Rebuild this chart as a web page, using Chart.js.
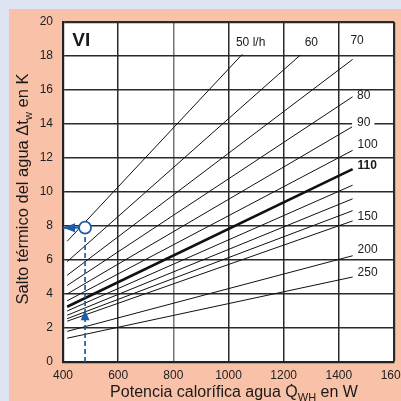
<!DOCTYPE html>
<html><head><meta charset="utf-8">
<script src="https://cdn.jsdelivr.net/npm/chart.js@4.4.1/dist/chart.umd.min.js"></script>
<style>html,body{margin:0;padding:0;width:401px;height:401px;overflow:hidden;background:#dfe4f2}</style>
</head><body>
<canvas id="c" width="420" height="401" style="display:block;width:420px;height:401px"></canvas>
<script>
// ---- data ----
const flows   = [50, 60, 70, 80, 90, 100, 110, 120, 130, 140, 150, 200, 250]; // l/h
const startQ  = [415, 415, 415, 415, 415, 415, 415, 415, 415, 415, 415, 415, 415];
const startDT = [7.1, 5.9, 5.1, 4.5, 4.0, 3.6, 3.25, 3.0, 2.75, 2.55, 2.4, 1.8, 1.4];
const endQ    = [1050, 1260, 1450, 1450, 1450, 1450, 1450, 1450, 1450, 1450, 1450, 1450, 1450];
const endDT   = [18.1, 18.05, 17.8, 15.6, 13.85, 12.45, 11.35, 10.4, 9.6, 8.9, 8.3, 6.25, 5.0];
const lineLabels = ['50 l/h', '60', '70', '80', '90', '100', '110', '', '', '', '150', '200', '250'];
const xTickValues = [400, 600, 800, 1000, 1200, 1400, 1600];
const yTickValues = [0, 2, 4, 6, 8, 10, 12, 14, 16, 18, 20];
const exampleQ = 480, exampleDT = 7.9;
const panelTag = 'VI';
const xTitle = ['Potencia calorífica agua ', 'Q\u0307', 'WH', ' en W'];
const yTitle = ['Salto térmico del agua ', 'Δt', 'w', ' en K'];

// ---- label placement (data coords, left/middle anchored) ----
const labelQ  = [1027, 1276, 1442, 1466, 1466, 1468, 1468, null, null, null, 1468, 1468, 1468];
const labelDT = [18.8, 18.8, 18.88, 15.66, 14.06, 12.78, 11.56, null, null, null, 8.53, 6.6, 5.24];

const BLUE = '#1f5ca8';
const FONT = "'Liberation Sans', Arial, Helvetica, sans-serif";

const datasets = [];
datasets.push({
  data: [{x: exampleQ, y: exampleDT}], showLine: false, order: 0,
  pointRadius: 6, pointBackgroundColor: '#fff', pointBorderColor: BLUE, pointBorderWidth: 1.8
});
datasets.push({
  data: [{x: exampleQ, y: 0}, {x: exampleQ, y: exampleDT}], showLine: true, order: 1,
  borderColor: BLUE, borderWidth: 1.7, borderDash: [5, 3], pointRadius: 0
});
datasets.push({
  data: [{x: 400, y: exampleDT}, {x: exampleQ, y: exampleDT}], showLine: true, order: 1,
  borderColor: BLUE, borderWidth: 2, pointRadius: 0
});
flows.forEach((f, i) => {
  datasets.push({
    label: String(f),
    data: [{x: startQ[i], y: startDT[i]}, {x: endQ[i], y: endDT[i]}],
    showLine: true, order: 2,
    borderColor: '#111', borderWidth: f === 110 ? 2.6 : 1, pointRadius: 0
  });
});

const bgPlugin = {
  id: 'bg',
  beforeDraw(chart) {
    const c = chart.ctx, a = chart.chartArea;
    c.save();
    c.fillStyle = '#dfe4f2'; c.fillRect(0, 0, chart.width, chart.height);
    c.fillStyle = '#f9c1a7'; c.fillRect(9, 9, chart.width - 9, chart.height - 9);
    c.fillStyle = '#ffffff'; c.fillRect(a.left, a.top, a.right - a.left, a.bottom - a.top);
    c.restore();
  }
};

function drawSubText(c, parts, big, small, cx, cy) {
  c.font = big + 'px ' + FONT;
  const w0 = c.measureText(parts[0]).width, w1 = c.measureText(parts[1]).width, w3 = c.measureText(parts[3]).width;
  c.font = small + 'px ' + FONT;
  const w2 = c.measureText(parts[2]).width;
  const total = w0 + w1 + w2 + w3;
  let x = cx - total / 2;
  c.textAlign = 'left'; c.textBaseline = 'alphabetic';
  c.font = big + 'px ' + FONT;
  c.fillText(parts[0], x, cy); x += w0;
  c.fillText(parts[1], x, cy); x += w1;
  c.font = small + 'px ' + FONT;
  c.fillText(parts[2], x, cy + 4); x += w2;
  c.font = big + 'px ' + FONT;
  c.fillText(parts[3], x, cy);
}

const overlayPlugin = {
  id: 'overlay',
  afterDatasetsDraw(chart) {
    const c = chart.ctx, xs = chart.scales.x, ys = chart.scales.y;
    c.save();
    c.textAlign = 'left'; c.textBaseline = 'middle';
    lineLabels.forEach((t, i) => {
      if (!t) return;
      const px = xs.getPixelForValue(labelQ[i]), py = ys.getPixelForValue(labelDT[i]);
      c.font = (flows[i] === 110 ? 'bold ' : '') + '12px ' + FONT;
      if (flows[i] === 90) {
        const w = c.measureText(t).width;
        c.fillStyle = '#fff'; c.fillRect(px - 5, py - 6, w + 9, 12);
      }
      c.fillStyle = '#1a1a1a';
      c.fillText(t, px, py);
    });
    c.font = 'bold 19px ' + FONT; c.fillStyle = '#1a1a1a'; c.textAlign = 'center';
    c.fillText(panelTag, xs.getPixelForValue(466), ys.getPixelForValue(18.9));
    c.fillStyle = BLUE;
    const ax = xs.getPixelForValue(exampleQ), ay = ys.getPixelForValue(3.05);
    c.beginPath(); c.moveTo(ax, ay); c.lineTo(ax - 4.5, ay + 10); c.lineTo(ax + 4.5, ay + 10); c.closePath(); c.fill();
    const lx = xs.getPixelForValue(400), ly = ys.getPixelForValue(exampleDT);
    c.beginPath(); c.moveTo(lx, ly); c.lineTo(lx + 12, ly - 4.5); c.lineTo(lx + 12, ly + 4.5); c.closePath(); c.fill();
    c.restore();
  },
  afterDraw(chart) {
    const c = chart.ctx;
    c.save();
    c.fillStyle = '#1a1a1a';
    drawSubText(c, xTitle, 16, 11, 234, 397);
    c.translate(22, 189); c.rotate(-Math.PI / 2);
    drawSubText(c, yTitle, 16.5, 11, 0, 6);
    c.restore();
  }
};

new Chart(document.getElementById('c'), {
  type: 'scatter',
  data: { datasets },
  options: {
    responsive: false, animation: false, devicePixelRatio: 1,
    layout: { padding: { left: 0, top: 22, right: 26, bottom: 0 } },
    plugins: { legend: { display: false }, tooltip: { enabled: false } },
    scales: {
      x: {
        type: 'linear', min: 400, max: 1600,
        afterBuildTicks: s => { s.ticks = xTickValues.map(v => ({value: v})); },
        afterFit: s => { s.height = 39; },
        ticks: { padding: 6, color: '#222', font: { family: FONT, size: 12 }, callback: v => String(v) },
        grid: { drawTicks: false,
          color: ctx => (ctx.tick && ctx.tick.value === 800) ? '#777' : '#2a2a2a',
          lineWidth: ctx => (ctx.tick && ctx.tick.value === 1600) ? 2.2 : 1.5 },
        border: { display: true, color: '#222', width: 2.2 }
      },
      y: {
        type: 'linear', min: 0, max: 20,
        afterBuildTicks: s => { s.ticks = yTickValues.map(v => ({value: v})); },
        afterFit: s => { s.width = 63; },
        ticks: { padding: 10, color: '#222', font: { family: FONT, size: 12 }, callback: v => String(v) },
        grid: { drawTicks: false, color: '#2a2a2a',
          lineWidth: ctx => (ctx.tick && ctx.tick.value === 20) ? 2.2 : 1.5 },
        border: { display: true, color: '#222', width: 2.2 }
      }
    }
  },
  plugins: [bgPlugin, overlayPlugin]
});
</script>
</body></html>
